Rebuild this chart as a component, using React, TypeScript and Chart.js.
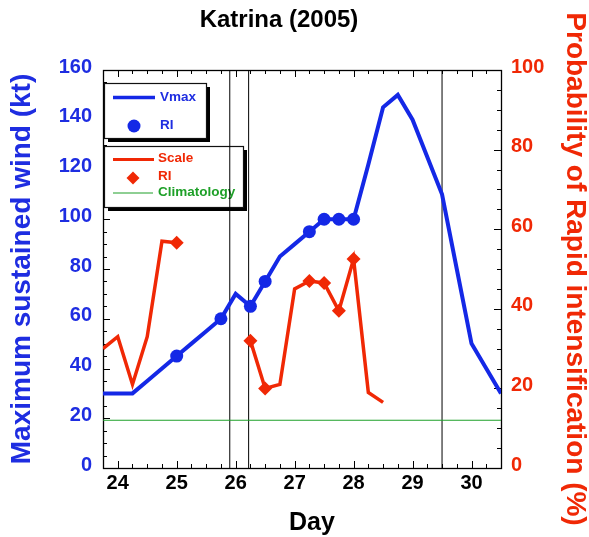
import React, { useEffect, useRef } from "react";
import { Chart, registerables } from "chart.js";

Chart.register(...registerables);

// ---------- data ----------
const chartTitle = "Katrina (2005)";
const xTitle = "Day";
const windTitle = "Maximum sustained wind (kt)";
const probTitle = "Probability of Rapid intensification (%)";

const vmaxDays = [23.75, 24, 24.25, 24.5, 24.75, 25, 25.25, 25.5, 25.75, 26, 26.25, 26.5, 26.75, 27, 27.25, 27.5, 27.75, 28, 28.25, 28.5, 28.75, 29, 29.25, 29.5, 29.75, 30, 30.25, 30.5];
const vmaxKt = [30, 30, 30, 35, 40, 45, 50, 55, 60, 70, 65, 75, 85, 90, 95, 100, 100, 100, 122, 145, 150, 140, 125, 110, 80, 50, 40, 30];

const riWindDays = [25, 25.75, 26.25, 26.5, 27.25, 27.5, 27.75, 28];
const riWindKt = [45, 60, 65, 75, 95, 100, 100, 100];

const probDays = [23.75, 24, 24.25, 24.5, 24.75, 25, 25.25, 25.5, 25.75, 26, 26.25, 26.5, 26.75, 27, 27.25, 27.5, 27.75, 28, 28.25, 28.5];
const probPct: (number | null)[] = [30, 33, 21, 33, 57, 56.6, null, null, null, null, 32, 20, 21, 45, 47, 46.5, 39.5, 52.5, 19, 16.5];

const riProbDays = [25, 26.25, 26.5, 27.25, 27.5, 27.75, 28];
const riProbPct = [56.6, 32, 20, 47, 46.5, 39.5, 52.5];

const climatologyPct = 12;
const markerDays = [25.9, 26.22, 29.5];

const dayRange = [23.75, 30.5];
const windRange = [0, 160];
const probRange = [0, 100];
const dayTicks = [24, 25, 26, 27, 28, 29, 30];
const windTicks = [0, 20, 40, 60, 80, 100, 120, 140, 160];
const probTicks = [0, 20, 40, 60, 80, 100];
const dayMinorStep = 0.25;
const windMinorStep = 5;
const probMinorStep = 5;

// ---------- style ----------
const BLUE = "rgb(20,40,230)";
const BLUE_TXT = "rgb(30,45,225)";
const RED = "rgb(240,40,5)";
const GREEN = "rgb(30,160,40)";
const FONT = "'Liberation Sans', Arial, Helvetica, sans-serif";

const frameAndLegend = {
  id: "frameAndLegend",
  beforeDatasetsDraw(chart: any) {
    const { ctx, chartArea: a, scales } = chart;
    ctx.save();
    ctx.strokeStyle = "#000";
    ctx.lineWidth = 1;
    const MAJ = 7;
    const MIN = 4;
    const near = (v: number, arr: number[]) => arr.some((t) => Math.abs(t - v) < 1e-6);
    // x ticks (bottom & top, pointing inwards)
    const xs = scales.x;
    const nx = Math.round((dayRange[1] - dayRange[0]) / dayMinorStep);
    for (let i = 0; i <= nx; i++) {
      const v = dayRange[0] + i * dayMinorStep;
      const px = Math.round(xs.getPixelForValue(v)) + 0.5;
      const len = near(v, dayTicks) ? MAJ : MIN;
      ctx.beginPath();
      ctx.moveTo(px, a.bottom);
      ctx.lineTo(px, a.bottom - len);
      ctx.moveTo(px, a.top);
      ctx.lineTo(px, a.top + len);
      ctx.stroke();
    }
    // left ticks
    const ys = scales.y;
    const ny = Math.round((windRange[1] - windRange[0]) / windMinorStep);
    for (let i = 0; i <= ny; i++) {
      const v = windRange[0] + i * windMinorStep;
      const py = Math.round(ys.getPixelForValue(v)) + 0.5;
      const len = near(v, windTicks) ? MAJ : MIN;
      ctx.beginPath();
      ctx.moveTo(a.left, py);
      ctx.lineTo(a.left + len, py);
      ctx.stroke();
    }
    // right ticks
    const y2 = scales.y2;
    const n2 = Math.round((probRange[1] - probRange[0]) / probMinorStep);
    for (let i = 0; i <= n2; i++) {
      const v = probRange[0] + i * probMinorStep;
      const py = Math.round(y2.getPixelForValue(v)) + 0.5;
      const len = near(v, probTicks) ? MAJ : MIN;
      ctx.beginPath();
      ctx.moveTo(a.right, py);
      ctx.lineTo(a.right - len, py);
      ctx.stroke();
    }
    // frame
    ctx.lineWidth = 1.3;
    ctx.strokeRect(Math.round(a.left) + 0.5, Math.round(a.top) + 0.5, Math.round(a.right - a.left), Math.round(a.bottom - a.top));

    // legend boxes
    const ox = a.left;
    const oy = a.top;
    const box = (x: number, y: number, w: number, h: number) => {
      ctx.fillStyle = "#000";
      ctx.fillRect(x + 4, y + 4, w, h);
      ctx.fillStyle = "#fff";
      ctx.fillRect(x, y, w, h);
      ctx.lineWidth = 1.2;
      ctx.strokeStyle = "#111";
      ctx.strokeRect(x + 0.5, y + 0.5, w, h);
    };
    const seg = (x1: number, x2: number, y: number, color: string, w: number) => {
      ctx.strokeStyle = color;
      ctx.lineWidth = w;
      ctx.beginPath();
      ctx.moveTo(x1, y);
      ctx.lineTo(x2, y);
      ctx.stroke();
    };
    const label = (t: string, x: number, y: number, color: string) => {
      ctx.fillStyle = color;
      ctx.font = `bold 13.5px ${FONT}`;
      ctx.textAlign = "left";
      ctx.textBaseline = "middle";
      ctx.fillText(t, x, y);
    };
    box(ox + 1, oy + 13, 102, 55);
    seg(ox + 10, ox + 52, oy + 27.5, BLUE, 3.5);
    label("Vmax", ox + 57, oy + 27, BLUE_TXT);
    ctx.fillStyle = BLUE;
    ctx.beginPath();
    ctx.arc(ox + 31, oy + 56, 6.5, 0, Math.PI * 2);
    ctx.fill();
    label("RI", ox + 57, oy + 55, BLUE_TXT);

    box(ox + 1, oy + 76, 139, 61);
    seg(ox + 10, ox + 51, oy + 89.5, RED, 3);
    label("Scale", ox + 55, oy + 88.5, RED);
    ctx.fillStyle = RED;
    ctx.beginPath();
    const dx = ox + 30, dy = oy + 108, r = 6.5;
    ctx.moveTo(dx, dy - r);
    ctx.lineTo(dx + r, dy);
    ctx.lineTo(dx, dy + r);
    ctx.lineTo(dx - r, dy);
    ctx.closePath();
    ctx.fill();
    label("RI", ox + 55, oy + 106.5, RED);
    seg(ox + 10, ox + 50, oy + 123, GREEN, 1.2);
    label("Climatology", ox + 55, oy + 122.5, GREEN);
    ctx.restore();
  },
  afterDraw(chart: any) {
    const { ctx, chartArea: a } = chart;
    ctx.save();
    ctx.fillStyle = "#000";
    ctx.textAlign = "center";
    ctx.textBaseline = "middle";
    ctx.font = `bold 24px ${FONT}`;
    ctx.fillText(chartTitle, (a.left + a.right) / 2 - 23, a.top - 50);
    ctx.font = `bold 25px ${FONT}`;
    ctx.fillText(xTitle, (a.left + a.right) / 2 + 10, a.bottom + 55);
    ctx.restore();
  },
};

export default function App() {
  const ref = useRef<HTMLCanvasElement | null>(null);
  useEffect(() => {
    if (!ref.current) return;
    const pts = (xs: number[], ys: (number | null)[]) => xs.map((x, i) => ({ x, y: ys[i] }));
    const chart = new Chart(ref.current, {
      type: "line",
      data: {
        datasets: [
          {
            label: "Vmax",
            data: pts(vmaxDays, vmaxKt) as any,
            yAxisID: "y",
            borderColor: BLUE,
            borderWidth: 4,
            pointRadius: 0,
            tension: 0,
          },
          {
            label: "RI (wind)",
            data: pts(riWindDays, riWindKt) as any,
            yAxisID: "y",
            showLine: false,
            pointStyle: "circle",
            pointRadius: 6.5,
            backgroundColor: BLUE,
            borderColor: BLUE,
            borderWidth: 0,
          },
          {
            label: "RI (prob)",
            data: pts(riProbDays, riProbPct) as any,
            yAxisID: "y2",
            showLine: false,
            pointStyle: "rectRot",
            pointRadius: 7,
            backgroundColor: RED,
            borderColor: RED,
            borderWidth: 0,
          },
          {
            label: "Scale",
            data: pts(probDays, probPct) as any,
            yAxisID: "y2",
            borderColor: RED,
            borderWidth: 3.5,
            pointRadius: 0,
            spanGaps: false,
            tension: 0,
          },
          {
            label: "Climatology",
            data: pts(dayRange, [climatologyPct, climatologyPct]) as any,
            yAxisID: "y2",
            borderColor: GREEN,
            borderWidth: 1.2,
            pointRadius: 0,
          },
          ...markerDays.map((d) => ({
            label: `marker ${d}`,
            data: pts([d, d], windRange) as any,
            yAxisID: "y",
            borderColor: "#000",
            borderWidth: 1,
            pointRadius: 0,
          })),
        ],
      },
      options: {
        animation: false,
        responsive: false,
        maintainAspectRatio: false,
        layout: { padding: { top: 70, left: 0, right: 0, bottom: 0 } },
        plugins: {
          legend: { display: false },
          tooltip: { enabled: false },
          title: { display: false },
        },
        scales: {
          x: {
            type: "linear",
            position: "bottom",
            min: dayRange[0],
            max: dayRange[1],
            grid: { display: false, drawTicks: false },
            border: { display: false },
            ticks: {
              color: "#000",
              font: { family: FONT, size: 20, weight: "bold" },
              padding: 3,
              maxRotation: 0,
              autoSkip: false,
            },
            afterBuildTicks: (s: any) => {
              s.ticks = dayTicks.map((v) => ({ value: v }));
            },
            afterFit: (s: any) => {
              s.height = 69;
            },
          },
          y: {
            type: "linear",
            position: "left",
            min: windRange[0],
            max: windRange[1],
            grid: { display: false, drawTicks: false },
            border: { display: false },
            ticks: {
              color: BLUE_TXT,
              font: { family: FONT, size: 20, weight: "bold" },
              padding: 11,
              labelOffset: -3,
              autoSkip: false,
            },
            title: {
              display: true,
              text: windTitle,
              color: BLUE_TXT,
              font: { family: FONT, size: 28, weight: "bold", lineHeight: 1 },
              padding: { top: 8, bottom: 0 },
            },
            afterBuildTicks: (s: any) => {
              s.ticks = windTicks.map((v) => ({ value: v }));
            },
            afterFit: (s: any) => {
              s.width = 103;
            },
          },
          y2: {
            type: "linear",
            position: "right",
            min: probRange[0],
            max: probRange[1],
            grid: { display: false, drawTicks: false },
            border: { display: false },
            ticks: {
              color: RED,
              font: { family: FONT, size: 20, weight: "bold" },
              padding: 10,
              labelOffset: -3,
              autoSkip: false,
            },
            title: {
              display: true,
              text: probTitle,
              color: RED,
              font: { family: FONT, size: 28, weight: "bold", lineHeight: 1 },
              padding: { top: 0, bottom: 0 },
            },
            afterBuildTicks: (s: any) => {
              s.ticks = probTicks.map((v) => ({ value: v }));
            },
            afterFit: (s: any) => {
              s.width = 88;
            },
          },
        },
      } as any,
      plugins: [frameAndLegend],
    });
    return () => chart.destroy();
  }, []);
  return (
    <div style={{ position: "fixed", left: 0, top: 0, width: 589, height: 537, background: "#fff" }}>
      <canvas ref={ref} width={589} height={537} style={{ width: 589, height: 537 }} />
    </div>
  );
}
